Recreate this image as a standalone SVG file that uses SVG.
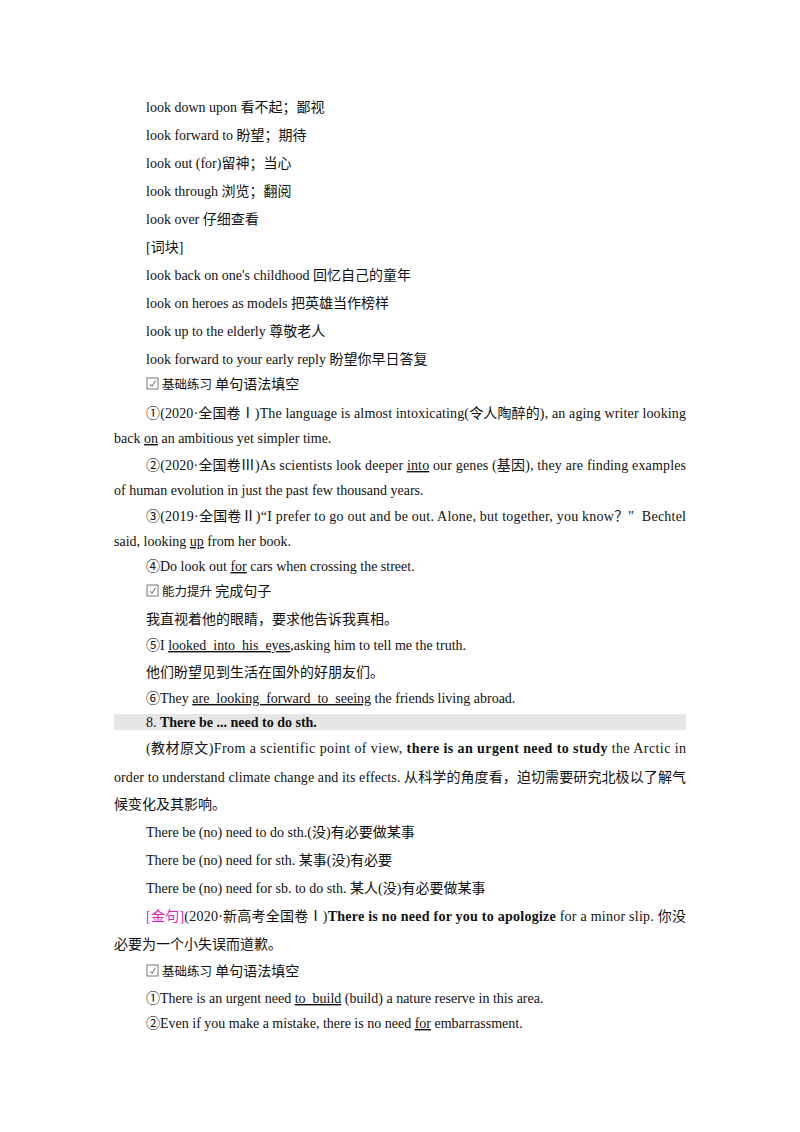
<svg xmlns="http://www.w3.org/2000/svg" width="800" height="1132" viewBox="0 0 800 1132">
<style>
text{font-family:"Liberation Serif","Noto Sans CJK SC",serif;font-size:14px;fill:#111}
.c{font-family:"Noto Sans CJK SC",sans-serif}
.s{font-size:12.5px}
.b{font-weight:bold}
.u{text-decoration:underline}
.m{fill:#e020c0}
.bx{fill:none;stroke:#555;stroke-width:0.8}
</style>
<defs>
<g id="cb"><rect class="bx" x="0" y="0" width="11" height="11"/><path d="M3 6 L5 8.5 L8.5 2.5" fill="none" stroke="#555" stroke-width="0.9"/></g>
</defs>
<rect x="114" y="714" width="572" height="16" fill="#e6e6e6"/>
<g id="text">
<text x="146" y="112">look down upon <tspan class="c">看不起；鄙视</tspan></text>
<text x="146" y="140">look forward to <tspan class="c">盼望；期待</tspan></text>
<text x="146" y="168">look out (for)<tspan class="c">留神；当心</tspan></text>
<text x="146" y="196">look through <tspan class="c">浏览；翻阅</tspan></text>
<text x="146" y="224">look over <tspan class="c">仔细查看</tspan></text>
<text x="146" y="252">[<tspan class="c">词块</tspan>]</text>
<text x="146" y="280">look back on one's childhood <tspan class="c">回忆自己的童年</tspan></text>
<text x="146" y="308">look on heroes as models <tspan class="c">把英雄当作榜样</tspan></text>
<text x="146" y="336">look up to the elderly <tspan class="c">尊敬老人</tspan></text>
<text x="146" y="364">look forward to your early reply <tspan class="c">盼望你早日答复</tspan></text>
<use href="#cb" x="147" y="378"/>
<text x="162" y="389"><tspan class="c s">基础练习</tspan><tspan class="c"> 单句语法填空</tspan></text>
<text x="146" y="418" textLength="540" lengthAdjust="spacing">①(2020·<tspan class="c">全国卷Ⅰ</tspan>)The language is almost intoxicating(<tspan class="c">令人陶醉的</tspan>), an aging writer looking</text>
<text x="114" y="443">back <tspan class="u">on</tspan> an ambitious yet simpler time.</text>
<text x="146" y="470" textLength="540" lengthAdjust="spacing">②(2020·<tspan class="c">全国卷Ⅲ</tspan>)As scientists look deeper <tspan class="u">into</tspan> our genes (<tspan class="c">基因</tspan>), they are finding examples</text>
<text x="114" y="495">of human evolution in just the past few thousand years.</text>
<text x="146" y="521" textLength="540" lengthAdjust="spacing">③(2019·<tspan class="c">全国卷Ⅱ</tspan>)“I prefer to go out and be out. Alone, but together, you know？″&#160;&#160;Bechtel</text>
<text x="114" y="546">said, looking <tspan class="u">up</tspan> from her book.</text>
<text x="146" y="571">④Do look out <tspan class="u">for</tspan> cars when crossing the street.</text>
<use href="#cb" x="147" y="585"/>
<text x="162" y="596"><tspan class="c s">能力提升</tspan><tspan class="c"> 完成句子</tspan></text>
<text x="146" y="624" class="c">我直视着他的眼睛，要求他告诉我真相。</text>
<text x="146" y="650">⑤I <tspan class="u">looked&#160;&#160;into&#160;&#160;his&#160;&#160;eyes</tspan>,asking him to tell me the truth.</text>
<text x="146" y="677" class="c">他们盼望见到生活在国外的好朋友们。</text>
<text x="146" y="703">⑥They <tspan class="u">are&#160;&#160;looking&#160;&#160;forward&#160;&#160;to&#160;&#160;seeing</tspan> the friends living abroad.</text>
<text x="146" y="727">8. <tspan class="b">There be ... need to do sth.</tspan></text>
<text x="146" y="753" textLength="540" lengthAdjust="spacing">(<tspan class="c">教材原文</tspan>)From a scientific point of view, <tspan class="b">there is an urgent need to study</tspan> the Arctic in</text>
<text x="114" y="782" textLength="572" lengthAdjust="spacing">order to understand climate change and its effects. <tspan class="c">从科学的角度看，迫切需要研究北极以了解气</tspan></text>
<text x="114" y="809" class="c">候变化及其影响。</text>
<text x="146" y="837">There be (no) need to do sth.(<tspan class="c">没</tspan>)<tspan class="c">有必要做某事</tspan></text>
<text x="146" y="865">There be (no) need for sth. <tspan class="c">某事</tspan>(<tspan class="c">没</tspan>)<tspan class="c">有必要</tspan></text>
<text x="146" y="893">There be (no) need for sb. to do sth. <tspan class="c">某人</tspan>(<tspan class="c">没</tspan>)<tspan class="c">有必要做某事</tspan></text>
<text x="146" y="921" textLength="540" lengthAdjust="spacing"><tspan class="m">[</tspan><tspan class="c m">金句</tspan><tspan class="m">]</tspan>(2020·<tspan class="c">新高考全国卷Ⅰ</tspan>)<tspan class="b">There is no need for you to apologize</tspan> for a minor slip. <tspan class="c">你没</tspan></text>
<text x="114" y="949" class="c">必要为一个小失误而道歉。</text>
<use href="#cb" x="147" y="965"/>
<text x="162" y="976"><tspan class="c s">基础练习</tspan><tspan class="c"> 单句语法填空</tspan></text>
<text x="146" y="1003">①There is an urgent need <tspan class="u">to&#160;&#160;build</tspan> (build) a nature reserve in this area.</text>
<text x="146" y="1028">②Even if you make a mistake, there is no need <tspan class="u">for</tspan> embarrassment.</text>
</g>
</svg>
